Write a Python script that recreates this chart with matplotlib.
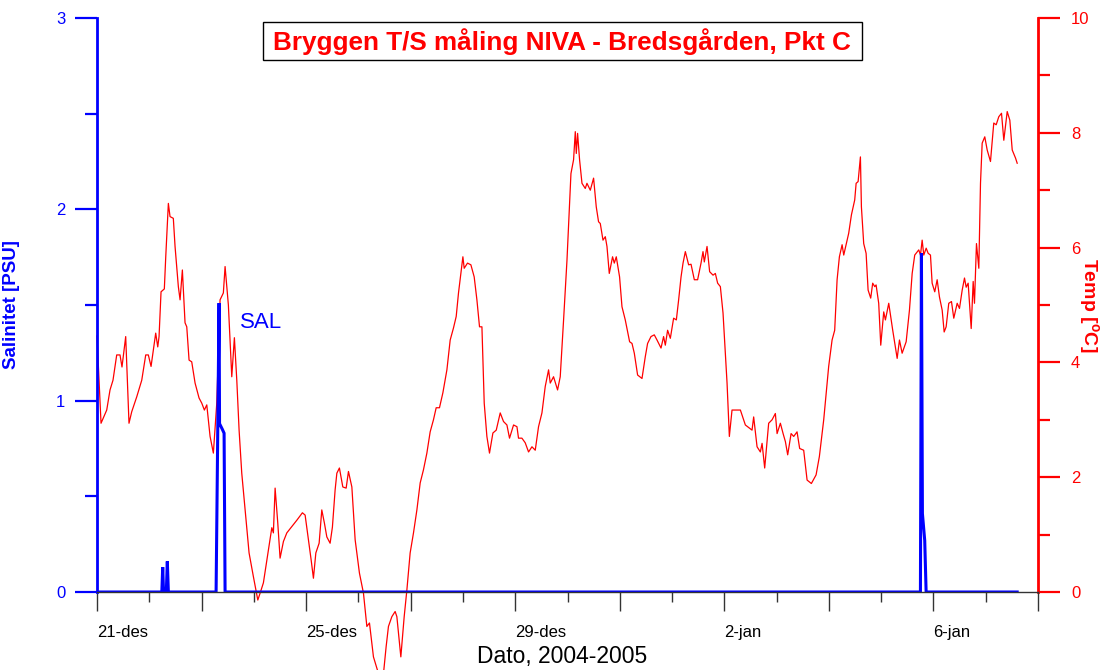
import matplotlib
matplotlib.use("Agg")
import matplotlib.pyplot as plt
from matplotlib.patches import Rectangle
from matplotlib.ticker import MultipleLocator, FixedLocator

plt.rcParams['font.family'] = ['Liberation Sans', 'DejaVu Sans']

# ---------------- data ----------------
# time in days since 21-des-2004 00:00
temp_days = [
    0.000, 0.077, 0.186, 0.249, 0.306, 0.377, 0.440, 0.478, 0.549, 0.612,
    0.664, 0.760, 0.856, 0.932, 0.982, 1.034, 1.123, 1.162, 1.187, 1.225,
    1.288, 1.315, 1.365, 1.397, 1.460, 1.493, 1.556, 1.589, 1.633, 1.684,
    1.717, 1.761, 1.812, 1.876, 1.952, 2.004, 2.054, 2.100, 2.163, 2.226,
    2.291, 2.354, 2.417, 2.450, 2.513, 2.578, 2.628, 2.674, 2.718, 2.769,
    2.833, 2.909, 2.991, 3.076, 3.120, 3.183, 3.279, 3.344, 3.374, 3.407,
    3.458, 3.502, 3.566, 3.631, 3.726, 3.822, 3.929, 3.981, 4.044, 4.096,
    4.140, 4.186, 4.249, 4.300, 4.350, 4.396, 4.459, 4.503, 4.555, 4.588,
    4.637, 4.702, 4.766, 4.810, 4.875, 4.938, 5.020, 5.097, 5.162, 5.212,
    5.288, 5.384, 5.480, 5.531, 5.575, 5.640, 5.703, 5.736, 5.812, 5.876,
    5.927, 5.990, 6.054, 6.119, 6.182, 6.245, 6.310, 6.373, 6.436, 6.488,
    6.551, 6.616, 6.693, 6.756, 6.819, 6.871, 6.915, 6.961, 6.999, 7.024,
    7.087, 7.152, 7.215, 7.267, 7.317, 7.363, 7.407, 7.458, 7.508, 7.573,
    7.637, 7.713, 7.776, 7.841, 7.891, 7.968, 8.033, 8.063, 8.128, 8.191,
    8.255, 8.320, 8.383, 8.446, 8.511, 8.574, 8.638, 8.670, 8.733, 8.810,
    8.861, 8.925, 8.990, 9.066, 9.116, 9.149, 9.168, 9.193, 9.231, 9.277,
    9.340, 9.372, 9.436, 9.499, 9.550, 9.594, 9.627, 9.679, 9.723, 9.755,
    9.799, 9.862, 9.895, 9.933, 9.996, 10.042, 10.105, 10.188, 10.234, 10.278,
    10.341, 10.425, 10.488, 10.532, 10.597, 10.660, 10.712, 10.789, 10.838, 10.871,
    10.915, 10.967, 11.030, 11.082, 11.126, 11.172, 11.210, 11.254, 11.317, 11.363,
    11.426, 11.489, 11.554, 11.592, 11.617, 11.669, 11.719, 11.784, 11.828, 11.872,
    11.924, 11.975, 12.019, 12.052, 12.096, 12.147, 12.211, 12.307, 12.402, 12.530,
    12.561, 12.626, 12.689, 12.722, 12.772, 12.848, 12.913, 12.976, 13.009, 13.072,
    13.124, 13.168, 13.212, 13.277, 13.327, 13.391, 13.441, 13.518, 13.583, 13.665,
    13.755, 13.818, 13.901, 13.996, 14.061, 14.111, 14.157, 14.201, 14.253, 14.284,
    14.330, 14.379, 14.431, 14.494, 14.521, 14.559, 14.603, 14.622, 14.666, 14.712,
    14.750, 14.800, 14.838, 14.877, 14.903, 14.953, 14.992, 15.049, 15.081, 15.145,
    15.221, 15.306, 15.350, 15.401, 15.478, 15.541, 15.593, 15.642, 15.719, 15.752,
    15.784, 15.815, 15.861, 15.899, 15.943, 15.975, 16.025, 16.071, 16.115, 16.167,
    16.205, 16.243, 16.293, 16.345, 16.389, 16.454, 16.498, 16.550, 16.594, 16.626,
    16.664, 16.722, 16.760, 16.785, 16.823, 16.868, 16.900, 16.932, 16.982, 17.028,
    17.091, 17.154, 17.200, 17.250, 17.302, 17.346, 17.411, 17.461, 17.507, 17.570,
    17.602,
]
temp_values = [
    4.46, 2.94, 3.17, 3.52, 3.69, 4.13, 4.13, 3.92, 4.45, 2.94,
    3.14, 3.40, 3.69, 4.13, 4.13, 3.93, 4.51, 4.27, 4.45, 5.23,
    5.28, 5.84, 6.77, 6.54, 6.51, 6.02, 5.32, 5.09, 5.61, 4.69,
    4.62, 4.04, 4.01, 3.64, 3.38, 3.29, 3.17, 3.26, 2.71, 2.42,
    3.29, 5.09, 5.21, 5.67, 5.00, 3.75, 4.43, 3.69, 2.82, 2.07,
    1.43, 0.68, 0.27, -0.14, -0.02, 0.16, 0.73, 1.12, 1.03, 1.81,
    1.20, 0.59, 0.88, 1.03, 1.14, 1.25, 1.38, 1.34, 0.91, 0.56,
    0.24, 0.68, 0.85, 1.43, 1.20, 0.96, 0.85, 1.13, 1.78, 2.07,
    2.16, 1.83, 1.81, 2.10, 1.83, 0.91, 0.33, -0.02, -0.60, -0.54,
    -1.13, -1.42, -1.42, -0.95, -0.60, -0.43, -0.34, -0.43, -1.13, -0.43,
    0.03, 0.68, 1.03, 1.43, 1.90, 2.13, 2.42, 2.79, 3.00, 3.21,
    3.21, 3.47, 3.87, 4.39, 4.60, 4.80, 5.21, 5.56, 5.84, 5.64,
    5.73, 5.70, 5.49, 5.09, 4.62, 4.62, 3.29, 2.71, 2.42, 2.77,
    2.82, 3.12, 2.97, 2.91, 2.68, 2.91, 2.88, 2.68, 2.68, 2.60,
    2.44, 2.53, 2.47, 2.88, 3.12, 3.58, 3.87, 3.64, 3.75, 3.52,
    3.75, 4.74, 5.78, 7.29, 7.53, 8.02, 7.64, 7.99, 7.53, 7.12,
    7.03, 7.12, 7.00, 7.21, 6.71, 6.45, 6.42, 6.13, 6.19, 6.02,
    5.55, 5.84, 5.73, 5.84, 5.49, 4.97, 4.74, 4.36, 4.33, 4.16,
    3.78, 3.72, 4.10, 4.33, 4.45, 4.48, 4.39, 4.25, 4.45, 4.30,
    4.56, 4.42, 4.77, 4.74, 5.09, 5.49, 5.73, 5.93, 5.70, 5.71,
    5.44, 5.44, 5.73, 5.93, 5.75, 6.02, 5.58, 5.52, 5.55, 5.38,
    5.32, 4.86, 4.16, 3.64, 2.71, 3.17, 3.17, 3.17, 2.91, 2.82,
    3.05, 2.53, 2.44, 2.59, 2.16, 2.94, 3.00, 3.11, 2.76, 2.94,
    2.76, 2.62, 2.39, 2.76, 2.71, 2.79, 2.50, 2.47, 1.95, 1.89,
    2.04, 2.36, 3.00, 3.93, 4.39, 4.56, 5.44, 5.84, 6.05, 5.87,
    6.05, 6.25, 6.57, 6.83, 7.12, 7.15, 7.58, 6.71, 6.07, 5.90,
    5.26, 5.12, 5.38, 5.32, 5.35, 5.03, 4.30, 4.88, 4.74, 5.03,
    4.56, 4.07, 4.39, 4.16, 4.36, 4.91, 5.55, 5.87, 5.96, 5.87,
    6.13, 5.87, 5.99, 5.90, 5.87, 5.38, 5.23, 5.44, 5.14, 4.91,
    4.53, 4.62, 5.03, 5.06, 4.77, 5.03, 4.94, 5.26, 5.47, 5.31,
    5.38, 4.59, 5.41, 5.03, 6.07, 5.64, 7.12, 7.82, 7.93, 7.70,
    7.50, 8.17, 8.14, 8.28, 8.34, 7.87, 8.37, 8.22, 7.70, 7.56,
    7.47,
]

sal_days = [0.000, 1.240, 1.257, 1.273, 1.326, 1.345, 1.365,
            2.278, 2.335, 2.344, 2.398, 2.431, 2.450,
            15.751, 15.770, 15.789, 15.833, 15.860, 17.602]
sal_values = [0.00, 0.00, 0.13, 0.00, 0.00, 0.16, 0.00,
              0.00, 1.51, 0.88, 0.85, 0.83, 0.00,
              0.00, 1.77, 0.41, 0.27, 0.00, 0.00]

xtick_days = [0, 4, 8, 12, 16]
xtick_labels = ['21-des', '25-des', '29-des', '2-jan', '6-jan']

title_text = 'Bryggen T/S måling NIVA - Bredsgården, Pkt C'
xlabel_text = 'Dato, 2004-2005'
sal_label = 'Salinitet [PSU]'
temp_label = 'Temp [$\\mathregular{^oC}$]'
series_label = 'SAL'

# ---------------- figure ----------------
W, H = 1119, 670
fig = plt.figure(figsize=(W / 100, H / 100), dpi=100)

L, R, T, B = 97, 1038, 18, 592
ax = fig.add_axes([L / W, 1 - B / H, (R - L) / W, (B - T) / H])
ax2 = ax.twinx()

BLUE = '#0000ff'
RED = '#ff0000'

# temperature (right axis)
ax2.plot(temp_days, temp_values, color=RED, lw=0.9, clip_on=False)
ax2.set_ylim(0, 10)
ax2.yaxis.set_major_locator(MultipleLocator(2))
ax2.yaxis.set_minor_locator(MultipleLocator(1))
ax2.tick_params(axis='y', which='major', colors=RED, labelcolor=RED,
                length=15.8, width=1.6, pad=8, labelsize=12)
ax2.tick_params(axis='y', which='minor', colors=RED, length=8.6, width=1.6)
ax2.set_ylabel(temp_label, color=RED, fontsize=14, fontweight='bold',
               rotation=-90, labelpad=0)
ax2.yaxis.set_label_coords((1101 - L) / (R - L), (B - 305) / (B - T))

# salinity (left axis), drawn on top
ax.set_zorder(ax2.get_zorder() + 1)
ax.patch.set_visible(False)
ax.plot(sal_days, sal_values, color=BLUE, lw=2.2, solid_joinstyle='miter')
ax.set_ylim(0, 3)
ax.set_xlim(0, 18)
ax.yaxis.set_major_locator(MultipleLocator(1))
ax.yaxis.set_minor_locator(MultipleLocator(0.5))
ax.tick_params(axis='y', which='major', colors=BLUE, labelcolor=BLUE,
               length=15.8, width=1.6, pad=7, labelsize=12)
ax.tick_params(axis='y', which='minor', colors=BLUE, length=8.6, width=1.6)
ax.set_ylabel(sal_label, color=BLUE, fontsize=13.5, fontweight='bold')
ax.yaxis.set_label_coords((20 - L) / (R - L), (B - 305) / (B - T))

ax.xaxis.set_major_locator(FixedLocator(list(range(0, 19, 2))))
ax.xaxis.set_minor_locator(MultipleLocator(1))
major_labels = []
for d in range(0, 19, 2):
    major_labels.append(xtick_labels[xtick_days.index(d)] if d in xtick_days else '')
ax.set_xticklabels(major_labels)
for lab in ax.get_xticklabels():
    lab.set_horizontalalignment('left')
ax.tick_params(axis='x', which='major', colors='#333333', labelcolor='black',
               length=13.7, width=1.0, pad=10, labelsize=12)
ax.tick_params(axis='x', which='minor', colors='#333333', length=7.2, width=1.0)
ax2.tick_params(axis='x', which='both', bottom=False, labelbottom=False)

for a in (ax, ax2):
    a.spines['top'].set_visible(False)
ax.spines['right'].set_visible(False)
ax.spines['left'].set_color(BLUE)
ax.spines['left'].set_linewidth(2.0)
ax.spines['bottom'].set_color('#333333')
ax.spines['bottom'].set_linewidth(1.0)
ax2.spines['left'].set_visible(False)
ax2.spines['bottom'].set_visible(False)
ax2.spines['right'].set_color(RED)
ax2.spines['right'].set_linewidth(2.0)

# series label
ax.text((240 - L) / (R - L), (B - 323) / (B - T), series_label,
        transform=ax.transAxes, color=BLUE, fontsize=16, ha='left', va='center')

# title with box
fig.patches.append(Rectangle((263 / W, 1 - 60 / H), (862 - 263) / W, 38 / H,
                             transform=fig.transFigure, fill=True,
                             facecolor='white', edgecolor='black', lw=1.0,
                             zorder=5))
fig.text(562 / W, 1 - 42 / H, title_text, color=RED, fontsize=18.8,
         fontweight='bold', ha='center', va='center', zorder=6)

fig.text(562 / W, 1 - 657 / H, xlabel_text, color='black', fontsize=16.5,
         ha='center', va='center')

fig.savefig('out.png', dpi=100)
